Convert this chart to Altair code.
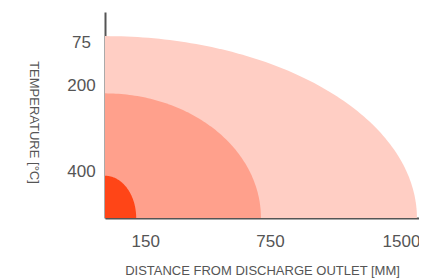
import math
import altair as alt
import pandas as pd

# Zones (largest drawn first)
zone_temp = ["75", "200", "400"]              # temperature label of each zone
zone_reach_mm = [1500, 750, 150]              # horizontal reach of each zone
zone_height = [88.3, 60.5, 20.5]              # vertical extent (relative units, 0-100)
zone_color = ["#FFCEC4", "#FFA08C", "#FF4517"]

# Axis labels
x_ticks = [150, 750, 1500]
y_label_pos = [85.2, 64.1, 22.8]
y_label_text = ["75", "200", "400"]

label_expr = ""
for p, s in zip(y_label_pos, y_label_text):
    label_expr += f"datum.value == {p} ? '{s}' : "
label_expr += "''"

x_scale = alt.Scale(domain=[0, 1510], nice=False, zero=True)
y_scale = alt.Scale(domain=[0, 100], nice=False, zero=True)

x_axis = alt.Axis(
    values=x_ticks, format="d", title="DISTANCE FROM DISCHARGE OUTLET [MM]",
    grid=False, ticks=False, tickSize=0, labelFlush=False,
    labelFontSize=17, labelColor="#555555", labelFont="Liberation Sans",
    labelPadding=15,
    labelOffset={"condition": {"test": "datum.value == 1500", "value": -16}, "value": 9},
    domainColor="#555555", domainWidth=2,
    titleFont="Liberation Sans", titleFontSize=13, titleFontWeight="normal",
    titleColor="#555555", titleBaseline="middle", titleY=52,
)
y_axis = alt.Axis(
    values=y_label_pos, labelExpr=label_expr, title="TEMPERATURE [°C]",
    grid=False, ticks=False, tickSize=0, labelFlush=False,
    labelFontSize=17, labelColor="#555555", labelFont="Liberation Sans",
    labelAlign="center", labelBaseline="middle", labelPadding=24,
    domainColor="#555555", domainWidth=2,
    titleFont="Liberation Sans", titleFontSize=13, titleFontWeight="normal",
    titleColor="#555555", titleAngle=90, titleAlign="center", titleBaseline="middle",
    titleX=-72, titleY=110,
)

layers = []
for i, (t, a, b, c) in enumerate(zip(zone_temp, zone_reach_mm, zone_height, zone_color)):
    pts = []
    for deg in range(90, -1, -1):
        r = math.radians(deg)
        pts.append({"x": a * math.cos(r), "y": b * math.sin(r)})
    d = pd.DataFrame(pts)
    if i == 0:
        xe = alt.X("x:Q", scale=x_scale, axis=x_axis)
        ye = alt.Y("y:Q", scale=y_scale, axis=y_axis)
    else:
        xe = alt.X("x:Q", scale=x_scale)
        ye = alt.Y("y:Q", scale=y_scale)
    layers.append(
        alt.Chart(d).mark_area(color=c, opacity=1).encode(x=xe, y=ye)
    )

chart = alt.layer(*layers).properties(
    width=314, height=206,
    autosize=alt.AutoSizeParams(type="none"),
    padding={"left": 97, "top": 4, "right": 0, "bottom": 60},
).configure_view(stroke=None)

chart.save("out.html", embed_options={"renderer": "svg", "actions": False})
